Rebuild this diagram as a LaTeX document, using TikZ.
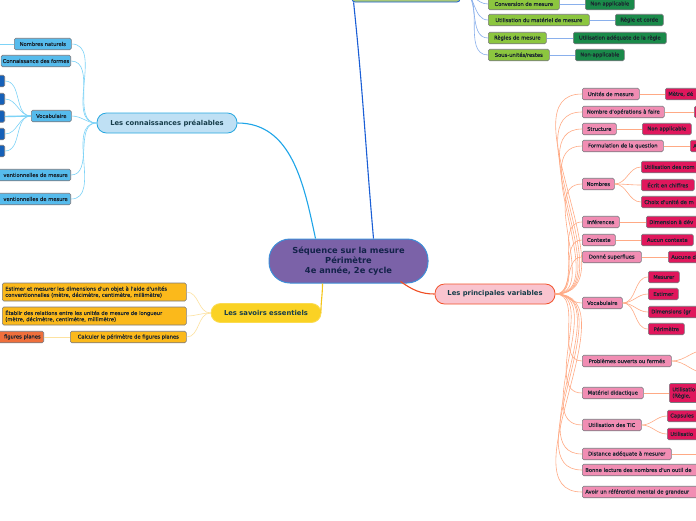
\documentclass[tikz,border=0pt]{standalone}
\usepackage{fontspec}
\setmainfont{DejaVu Sans}
\newfontfamily\smf[FakeBold=0.45]{DejaVu Sans}
\usetikzlibrary{calc}
\definecolor{txt}{HTML}{1A2530}
\definecolor{ttl}{HTML}{163D4A}
\definecolor{cPurple}{HTML}{7B62A8}
\definecolor{cPurpleB}{HTML}{3D8ED8}
\definecolor{cNavy}{HTML}{14234A}
\definecolor{cLBlue}{HTML}{BFE0F4}
\definecolor{cLBlueB}{HTML}{29A8E0}
\definecolor{cBlue}{HTML}{56BBEC}
\definecolor{cDBlue}{HTML}{1560B8}
\definecolor{eBlue}{HTML}{1EA5E8}
\definecolor{eBlueL}{HTML}{7DD3F7}
\definecolor{cYel}{HTML}{FAD224}
\definecolor{eYel}{HTML}{F5C518}
\definecolor{cOra}{HTML}{FBB91B}
\definecolor{cOraR}{HTML}{EF6F3C}
\definecolor{eYelL}{HTML}{FDE2A0}
\definecolor{cPinkT}{HTML}{F9C4CF}
\definecolor{cPinkTB}{HTML}{F2542D}
\definecolor{ePink}{HTML}{F04E23}
\definecolor{cPink}{HTML}{F18DB3}
\definecolor{cDPink}{HTML}{E0175C}
\definecolor{ePinkL}{HTML}{FFAA85}
\definecolor{cGreen}{HTML}{8CC63F}
\definecolor{cDGreen}{HTML}{1A8A4A}
\definecolor{cGreenT}{HTML}{A8C878}
\definecolor{eGreen}{HTML}{1B5FD6}
\definecolor{eGreenL}{HTML}{8AB0EC}
\definecolor{bord}{HTML}{7A7A80}
\begin{document}
\begin{tikzpicture}[x=1pt,y=1pt,
  base/.style={rounded corners=1.5pt, line width=0.6pt, draw=bord, text=txt,
    font=\smf\fontsize{5.2}{6.2}\selectfont, inner xsep=1.5pt, inner ysep=1.5pt,
    minimum height=11.5pt},
  bl/.style={base, fill=cBlue},
  dbl/.style={base, fill=cDBlue},
  ora/.style={base, fill=cOra},
  orr/.style={base, fill=cOraR},
  pk/.style={base, fill=cPink},
  dpk/.style={base, fill=cDPink},
  gr/.style={base, fill=cGreen},
  dgr/.style={base, fill=cDGreen},
  W/.style={anchor=west, minimum width=#1},
  E/.style={anchor=east, minimum width=#1},
  clipR/.style={anchor=west, text width=#1, align=left, inner xsep=3pt},
  clipL/.style={anchor=east, text width=#1, align=right, inner xsep=3pt},
  title/.style={rounded corners=9.5pt, line width=0.8pt, text=ttl,
    font=\fontsize{6.8}{8}\selectfont\bfseries, minimum height=20pt},
  mainE/.style={line width=1.1pt},
  subE/.style={line width=0.6pt}
]
\useasboundingbox (0,0) rectangle (696,-520);
\fill[white] (0,0) rectangle (696,-520);

% ---------- central ----------
\node[draw=cPurpleB, fill=cPurple, line width=1pt, rounded corners=21pt,
  minimum width=159pt, minimum height=44pt, align=center, text=cNavy,
  font=\fontsize{8.3}{9.6}\selectfont\bfseries] (cen) at (348.5,-261)
  {Séquence sur la mesure\\Périmètre\\4e année, 2e cycle};

% ---------- top green (cut) ----------
\node[draw=eGreen, fill=cGreenT, line width=0.8pt, rounded corners=3pt,
  minimum width=108pt, minimum height=22pt] (top) at (406,9) {};

\node[gr, W=71] (g1) at (488,-4) {Conversion de mesure};
\node[dgr, W=49] (g1a) at (585,-4) {Non applicable};
\node[gr, W=101] (g2) at (488,-20) {Utilisation du matériel de mesure};
\node[dgr, W=48] (g2a) at (615,-20) {Règle et corde};
\node[gr, W=58] (g3) at (488,-38) {Règles de mesure};
\node[dgr, W=93] (g3a) at (573,-38) {Utilisation adéquate de la règle};
\node[gr, W=61] (g4) at (488,-55) {Sous-unités/restes};
\node[dgr, W=49] (g4a) at (575,-55) {Non-applicable};

\draw[eGreen, mainE] ($(cen.north)+(25,0)$) to[out=95,in=-84] ($(top.south west)+(2,0)$);
\foreach \c in {g1,g2,g3,g4}
  \draw[eGreenL, subE] (top.east) to[out=0,in=180] (\c.west);
\draw[eGreenL, subE] (g1.east) -- (g1a.west);
\draw[eGreenL, subE] (g2.east) -- (g2a.west);
\draw[eGreenL, subE] (g3.east) -- (g3a.west);
\draw[eGreenL, subE] (g4.east) -- (g4a.west);

% ---------- blue branch ----------
\node[title, draw=cLBlueB, fill=cLBlue, minimum width=140pt] (con) at (167,-123)
  {Les connaissances préalables};
\draw[eBlue, mainE] ($(cen.north)+(-33,0)$) to[out=102,in=0] (con.east);

\node[bl, W=57] (b1) at (14,-44) {Nombres naturels};
\node[bl, anchor=east] (b2) at (71,-61) {Connaissance des formes};
\node[bl, W=40] (b3) at (31,-116) {Vocabulaire};
\node[bl, clipL=84pt] (b4) at (71,-175) {ventionnelles de mesure};
\node[bl, clipL=84pt] (b5) at (71,-199) {ventionnelles de mesure};
\foreach \n/\y in {v1/81,v2/99,v3/116.5,v4/134,v5/151}
  \node[dbl, E=14] (\n) at (5,-\y) {};
\coordinate (b1x) at (-5,-44);

\foreach \c in {b1,b2,b3,b4,b5}
  \draw[eBlueL, subE] (con.west) to[out=180,in=0] (\c.east);
\foreach \c in {v1,v2,v3,v4,v5}
  \draw[eBlueL, subE] (b3.west) to[out=180,in=0] (\c.east);
\draw[eBlueL, line width=1.4pt] (b3.west) -- (v3.east);
\draw[eBlueL, subE] (b1.west) -- (b1x);

% ---------- yellow branch ----------
\node[title, draw=cYel!80!white, fill=cYel, minimum width=110pt, minimum height=19pt] (sav) at (266,-313)
  {Les savoirs essentiels};
\draw[eYel, mainE] ($(cen.south)+(-26,0)$) to[out=-90,in=90] ($(sav.east)+(-0.5,0)$);

\node[ora, W=184, text width=178pt, align=left, minimum height=18pt] (y1) at (2,-292)
  {Estimer et mesurer les dimensions d'un objet à l'aide d'unités\\conventionnelles (mètre, décimètre, centimètre, millimètre)};
\node[ora, W=184, text width=178pt, align=left, minimum height=18pt] (y2) at (2,-316)
  {Établir des relations entre les unités de mesure de longueur\\(mètre, décimètre, centimètre, millimètre)};
\node[ora, W=116] (y3) at (70,-337) {Calculer le périmètre de figures planes};
\node[orr, clipL=58pt] (y3a) at (44,-337) {figures planes};
\foreach \c in {y1,y2,y3}
  \draw[eYelL, subE] (sav.west) to[out=180,in=0] (\c.east);
\draw[eYelL, line width=1pt] (y3.west) -- (y3a.east);

% ---------- pink branch ----------
\node[title, draw=cPinkTB, fill=cPinkT, minimum width=120pt] (var) at (495,-294)
  {Les principales variables};
\draw[ePink, mainE] ($(cen.south east)+(-28,2)$) to[out=-35,in=180] (var.west);

\node[pk, W=57] (p1) at (582,-94) {Unités de mesure};
\node[dpk, clipR=40pt] (p1a) at (665,-94) {Mètre, dé};
\node[pk, W=82] (p2) at (582,-112) {Nombre d'opérations à faire};
\node[dpk, W=20] (p2a) at (694,-112) {};
\node[pk, W=34] (p3) at (582,-129) {Structure};
\node[dpk, W=49] (p3a) at (642,-129) {Non applicable};
\node[pk, W=81] (p4) at (582,-146) {Formulation de la question};
\node[dpk, clipR=20pt] (p4a) at (690,-146) {A};
\node[pk, W=32] (p5) at (582,-184) {Nombres};
\node[dpk, clipR=60pt] (p5a) at (641,-167) {Utilisation des nom};
\node[dpk, W=53] (p5b) at (641,-185) {Écrit en chiffres};
\node[dpk, clipR=60pt] (p5c) at (641,-202) {Choix d'unité de m};
\node[pk, W=37] (p6) at (582,-222) {Inférences};
\node[dpk, clipR=60pt] (p6a) at (646,-222) {Dimension à dév};
\node[pk, W=33] (p7) at (582,-240) {Contexte};
\node[dpk, W=52] (p7a) at (641,-240) {Aucun contexte};
\node[pk, W=59] (p8) at (582,-257) {Donné superflues};
\node[dpk, clipR=40pt] (p8a) at (668,-257) {Aucune d};
\node[pk, W=40] (p9) at (582,-303) {Vocabulaire};
\node[dpk, W=31] (p9a) at (648,-277) {Mesurer};
\node[dpk, W=30] (p9b) at (648,-294) {Estimer};
\node[dpk, clipR=60pt] (p9c) at (648,-312) {Dimensions (gr};
\node[dpk, W=36] (p9d) at (648,-329) {Périmètre};
\node[pk, W=89] (p10) at (582,-361) {Problèmes ouverts ou fermés};
\coordinate (p10a) at (706,-350);
\coordinate (p10b) at (706,-373);
\node[pk, W=61] (p11) at (582,-393) {Matériel didactique};
\node[dpk, clipR=40pt, minimum height=19pt] (p11a) at (669,-393) {Utilisatio\\(Règle, };
\node[pk, W=59] (p12) at (582,-425) {Utilisation des TIC};
\node[dpk, clipR=40pt] (p12a) at (667,-416) {Capsules};
\node[dpk, clipR=40pt] (p12b) at (667,-434) {Utilisatio};
\node[pk, W=89] (p13) at (582,-454) {Distance adéquate à mesurer};
\coordinate (p13a) at (706,-454);
\node[pk, clipR=140pt] (p14) at (582,-470) {Bonne lecture des nombres d'un outil de};
\node[pk, clipR=140pt] (p15) at (582,-492) {Avoir un référentiel mental de grandeur};

\foreach \c in {p1,p2,p3,p4,p5,p6,p7,p8,p9,p10,p11,p12,p13,p14,p15}
  \draw[ePinkL, subE] (var.east) to[out=0,in=180] (\c.west);
\draw[ePinkL, subE] (p1.east) -- (p1a.west);
\draw[ePinkL, subE] (p2.east) -- (p2a.west);
\draw[ePinkL, subE] (p3.east) -- (p3a.west);
\draw[ePinkL, subE] (p4.east) -- (p4a.west);
\foreach \c in {p5a,p5b,p5c}
  \draw[ePinkL, subE] (p5.east) to[out=0,in=180] (\c.west);
\draw[ePinkL, subE] (p6.east) -- (p6a.west);
\draw[ePinkL, subE] (p7.east) -- (p7a.west);
\draw[ePinkL, subE] (p8.east) -- (p8a.west);
\foreach \c in {p9a,p9b,p9c,p9d}
  \draw[ePinkL, subE] (p9.east) to[out=0,in=180] (\c.west);
\draw[ePinkL, subE] (p10.east) to[out=0,in=180] (p10a);
\draw[ePinkL, subE] (p10.east) to[out=0,in=180] (p10b);
\draw[ePinkL, subE] (p11.east) -- (p11a.west);
\foreach \c in {p12a,p12b}
  \draw[ePinkL, subE] (p12.east) to[out=0,in=180] (\c.west);
\draw[ePinkL, subE] (p13.east) -- (p13a);
\end{tikzpicture}
\end{document}
